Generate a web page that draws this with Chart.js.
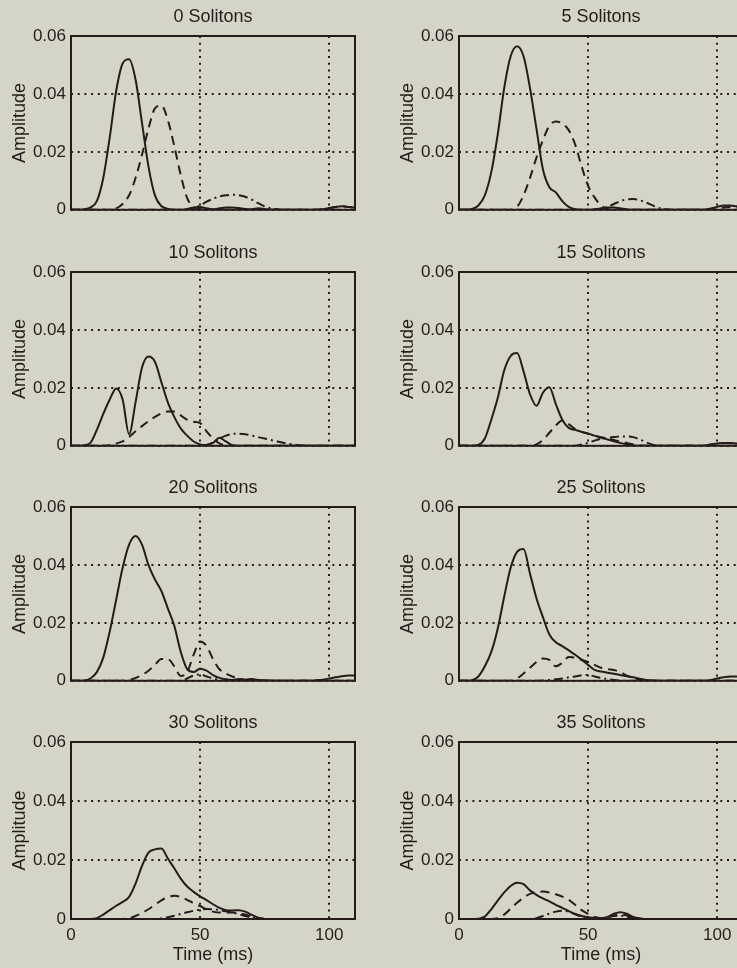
<!DOCTYPE html>
<html>
<head>
<meta charset="utf-8">
<script src="https://cdn.jsdelivr.net/npm/chart.js@4.4.1/dist/chart.umd.min.js"></script>
<style>
html,body{margin:0;padding:0;background:#d5d5c7;overflow:hidden;width:737px;height:968px;position:relative;}
canvas{position:absolute;}
</style>
</head>
<body>
<script>
// ---------- data ----------
const TIME = [0,2.5,5,7.5,10,12.5,15,17.5,20,22.5,25,27.5,30,32.5,35,37.5,40,42.5,45,47.5,50,52.5,55,57.5,60,62.5,65,67.5,70,72.5,75,77.5,80,82.5,85,87.5,90,92.5,95,97.5,100,102.5,105,107.5,110];
const X_TICKS = [0, 50, 100];
const Y_TICKS = [0, 0.02, 0.04, 0.06];
const PANEL_TITLES = ['0 Solitons','5 Solitons','10 Solitons','15 Solitons','20 Solitons','25 Solitons','30 Solitons','35 Solitons'];
const X_TITLE = 'Time (ms)';
const Y_TITLE = 'Amplitude';

// 0 Solitons
const s0_solid = [0,0,0.0002,0.0008,0.003,0.011,0.025,0.041,0.0505,0.052,0.045,0.030,0.015,0.005,0.0013,0.0003,0,0,0.0003,0.0008,0.001,0.0005,0.0002,0.0005,0.0008,0.0008,0.0006,0.0003,0.0002,0.0005,0.0003,0,0,0,0,0,0,0,0,0.0002,0.0006,0.001,0.0012,0.001,0.0008];
const s0_dash  = [0,0,0,0,0,0,0,0.0005,0.002,0.005,0.011,0.019,0.028,0.035,0.036,0.031,0.022,0.012,0.004,0.001,0.0003,0,0,0,0,0,0,0,0,0,0,0,0,0,0,0,0,0,0,0.0002,0.0006,0.001,0.0012,0.001,0.0008];
const s0_dot   = [0,0,0,0,0,0,0,0,0,0,0,0,0,0,0,0,0,0,0,0.0005,0.0015,0.0028,0.0038,0.0046,0.005,0.0052,0.005,0.0045,0.0035,0.0023,0.0012,0.0005,0.0002,0,0,0,0,0,0,0,0,0,0,0,0];
// 5 Solitons
const s5_solid = [0,0,0.0003,0.0015,0.005,0.013,0.026,0.042,0.053,0.0565,0.053,0.042,0.028,0.014,0.0078,0.006,0.003,0.001,0.0002,0,0,0.0002,0.0005,0.0008,0.0008,0.0005,0.0002,0,0,0,0,0,0,0,0,0,0,0,0,0.0005,0.001,0.0015,0.0015,0.0012,0.001];
const s5_dash  = [0,0,0,0,0,0,0,0,0,0.001,0.005,0.011,0.018,0.024,0.029,0.0305,0.0298,0.0275,0.0225,0.015,0.0083,0.0043,0.0015,0.0003,0,0,0,0,0,0,0,0,0,0,0,0,0,0,0,0,0.0005,0.0008,0.001,0.0008,0.0006];
const s5_dot   = [0,0,0,0,0,0,0,0,0,0,0,0,0,0,0,0,0,0,0,0,0,0,0.0003,0.001,0.002,0.003,0.0036,0.0037,0.0033,0.0025,0.0015,0.0006,0.0002,0,0,0,0,0,0,0,0,0,0,0,0];
// 10 Solitons
const s10_solid = [0,0,0.0002,0.001,0.0055,0.011,0.016,0.0198,0.016,0.004,0.015,0.027,0.0308,0.029,0.022,0.015,0.010,0.006,0.0035,0.0015,0.0005,0.0003,0.001,0.0028,0.0015,0.0002,0,0,0,0,0,0,0,0,0,0,0,0,0,0,0,0,0,0,0];
const s10_dash  = [0,0,0,0,0,0,0.0003,0.0008,0.0015,0.003,0.005,0.0068,0.0085,0.010,0.0112,0.0118,0.0118,0.0105,0.009,0.0083,0.0078,0.005,0.0025,0.0008,0.0002,0,0,0,0,0,0,0,0,0,0,0,0,0,0,0,0,0,0,0,0];
const s10_dot   = [0,0,0,0,0,0,0,0,0,0,0,0,0,0,0,0,0,0,0,0,0,0.0003,0.0012,0.0025,0.0035,0.0041,0.0042,0.004,0.0035,0.003,0.0025,0.002,0.0015,0.001,0.0006,0.0003,0.0001,0,0,0,0,0,0,0,0];
// 15 Solitons
const s15_solid = [0,0,0,0.0003,0.0025,0.009,0.0165,0.026,0.031,0.032,0.0257,0.0178,0.0138,0.0183,0.0202,0.0144,0.009,0.0062,0.0055,0.0048,0.0042,0.0035,0.0028,0.0022,0.0016,0.001,0.0005,0.0002,0,0,0,0,0,0,0,0,0,0,0,0.0005,0.0008,0.001,0.001,0.0008,0.0006];
const s15_dash  = [0,0,0,0,0,0,0,0,0,0,0,0,0.0005,0.002,0.0045,0.007,0.0087,0.0075,0.0058,0.0048,0.0042,0.0035,0.003,0.0025,0.002,0.0015,0.001,0.0005,0.0002,0,0,0,0,0,0,0,0,0,0,0,0,0,0,0,0];
const s15_dot   = [0,0,0,0,0,0,0,0,0,0,0,0,0,0,0,0,0,0,0,0.0005,0.001,0.0018,0.0024,0.0028,0.003,0.0032,0.0032,0.003,0.0022,0.0012,0.0004,0,0,0,0,0,0,0,0,0,0,0,0,0,0];
// 20 Solitons
const s20_solid = [0,0,0.0001,0.0008,0.003,0.008,0.017,0.028,0.039,0.047,0.050,0.047,0.040,0.035,0.031,0.025,0.019,0.010,0.004,0.003,0.0042,0.0035,0.002,0.001,0.0005,0.0003,0.0006,0.0004,0.0006,0.0003,0.0002,0.0001,0,0,0,0,0,0,0.0002,0.0004,0.0008,0.0012,0.0016,0.0018,0.0018];
const s20_dash  = [0,0,0,0,0,0,0,0,0,0.0003,0.001,0.002,0.0035,0.0055,0.0075,0.0075,0.005,0.0017,0.003,0.009,0.0136,0.012,0.0075,0.004,0.0025,0.0015,0.0008,0.0002,0,0,0,0,0,0,0,0,0,0,0,0,0,0,0,0,0];
const s20_dot   = [0,0,0,0,0,0,0,0,0,0,0,0,0,0,0,0,0,0,0.0008,0.0018,0.0022,0.0015,0.0008,0.0003,0,0,0,0,0,0,0,0,0,0,0,0,0,0,0,0,0,0,0,0,0];
// 25 Solitons
const s25_solid = [0,0,0.0002,0.0015,0.005,0.010,0.018,0.029,0.039,0.0445,0.0455,0.037,0.0285,0.022,0.016,0.0133,0.012,0.0105,0.009,0.0073,0.0055,0.0038,0.0032,0.0028,0.0024,0.002,0.0016,0.0012,0.0007,0.0003,0.0001,0,0,0,0,0,0,0,0,0.0003,0.0008,0.0012,0.0015,0.0015,0.0015];
const s25_dash  = [0,0,0,0,0,0,0,0,0,0.0008,0.0025,0.0045,0.0065,0.0077,0.0072,0.005,0.0062,0.0082,0.008,0.0072,0.0065,0.0055,0.0045,0.004,0.0037,0.003,0.0018,0.0008,0.0003,0,0,0,0,0,0,0,0,0,0,0,0,0,0,0,0];
const s25_dot   = [0,0,0,0,0,0,0,0,0,0,0,0,0,0.0001,0.0003,0.0005,0.0008,0.0012,0.0015,0.0019,0.002,0.0015,0.001,0.0006,0.0003,0.0001,0,0,0,0,0,0,0,0,0,0,0,0,0,0,0,0,0,0,0];
// 30 Solitons
const s30_solid = [0,0,0,0,0.0003,0.0015,0.003,0.0045,0.0058,0.0075,0.012,0.018,0.0225,0.0236,0.0239,0.0205,0.0172,0.0137,0.011,0.0092,0.0077,0.0064,0.005,0.0038,0.003,0.0029,0.003,0.0025,0.0014,0.0004,0,0,0,0,0,0,0,0,0,0,0,0,0,0,0];
const s30_dash  = [0,0,0,0,0,0,0,0,0,0.0003,0.001,0.002,0.0033,0.0048,0.0063,0.0074,0.0079,0.0075,0.0065,0.0053,0.0044,0.0033,0.0025,0.0022,0.0022,0.0022,0.002,0.0015,0.0008,0.0003,0,0,0,0,0,0,0,0,0,0,0,0,0,0,0];
const s30_dot   = [0,0,0,0,0,0,0,0,0,0,0,0,0,0,0.0002,0.0006,0.0011,0.0017,0.0023,0.0028,0.0032,0.0034,0.0033,0.003,0.0026,0.0022,0.0016,0.001,0.0005,0.0002,0,0,0,0,0,0,0,0,0,0,0,0,0,0,0];
// 35 Solitons
const s35_solid = [0,0,0,0.0001,0.0008,0.0033,0.0062,0.009,0.0112,0.0123,0.0118,0.0097,0.0082,0.007,0.006,0.0048,0.0038,0.0027,0.0017,0.001,0.0006,0.0003,0.0002,0.0007,0.0018,0.0023,0.0018,0.0007,0.0002,0,0,0,0,0,0,0,0,0,0,0,0,0,0,0,0];
const s35_dash  = [0,0,0,0,0,0,0.0003,0.0015,0.0035,0.0055,0.0072,0.0085,0.0091,0.0093,0.009,0.0084,0.0076,0.0065,0.0048,0.003,0.0017,0.0007,0.0003,0.0006,0.0012,0.0015,0.0012,0.0006,0.0002,0,0,0,0,0,0,0,0,0,0,0,0,0,0,0,0];
const s35_dot   = [0,0,0,0,0,0,0,0,0,0,0,0,0.0003,0.001,0.0018,0.0025,0.0028,0.0025,0.0016,0.0007,0.0002,0,0.0002,0.0006,0.001,0.0011,0.0008,0.0003,0,0,0,0,0,0,0,0,0,0,0,0,0,0,0,0,0];

const PANEL_SERIES = [
  [s0_solid, s0_dash, s0_dot],
  [s5_solid, s5_dash, s5_dot],
  [s10_solid, s10_dash, s10_dot],
  [s15_solid, s15_dash, s15_dot],
  [s20_solid, s20_dash, s20_dot],
  [s25_solid, s25_dash, s25_dot],
  [s30_solid, s30_dash, s30_dot],
  [s35_solid, s35_dash, s35_dot]
];

// ---------- styles / layout ----------
const INK = '#261b1b';
const FONT = "'Liberation Sans', Arial, Helvetica, sans-serif";
const DASHES = [[], [9, 6], [9, 4, 2, 4]];
const ROW_PLOT_TOP = [36, 272, 507, 742];
const COL_LEFT = [0, 388];
const TITLE_SPACE = 36;
const PLOT_H = 177;

const framePlugin = {
  id: 'frame',
  afterDatasetsDraw(chart) {
    const a = chart.chartArea;
    const ctx = chart.ctx;
    ctx.save();
    ctx.strokeStyle = INK;
    ctx.lineWidth = 2;
    ctx.strokeRect(a.left, a.top, a.right - a.left, a.bottom - a.top);
    ctx.restore();
  }
};

PANEL_TITLES.forEach((title, p) => {
  const row = Math.floor(p / 2), col = p % 2;
  const isBottom = row === 3;
  const xAxisH = isBottom ? 50 : 12;
  const cv = document.createElement('canvas');
  const W = 370, H = TITLE_SPACE + PLOT_H + xAxisH;
  cv.width = W; cv.height = H;
  cv.style.left = COL_LEFT[col] + 'px';
  cv.style.top = (ROW_PLOT_TOP[row] - TITLE_SPACE) + 'px';
  cv.style.width = W + 'px'; cv.style.height = H + 'px';
  document.body.appendChild(cv);

  const datasets = PANEL_SERIES[p].map((arr, k) => ({
    data: TIME.map((t, i) => ({x: t, y: arr[i]})),
    borderColor: INK,
    borderWidth: 2,
    borderDash: DASHES[k],
    pointRadius: 0,
    fill: false,
    cubicInterpolationMode: 'monotone'
  }));

  new Chart(cv, {
    type: 'line',
    data: {datasets},
    plugins: [framePlugin],
    options: {
      responsive: false,
      animation: false,
      devicePixelRatio: 1,
      layout: {padding: {left: 0, right: 15, top: 0, bottom: 0}},
      plugins: {
        legend: {display: false},
        tooltip: {enabled: false},
        title: {
          display: true, text: title, fullSize: false, color: INK,
          font: {family: FONT, size: 18, weight: 'normal'},
          padding: {top: 6, bottom: 8.4}
        }
      },
      scales: {
        x: {
          type: 'linear', min: 0, max: 110,
          afterBuildTicks: s => { s.ticks = X_TICKS.map(v => ({value: v})); },
          afterFit: s => { s.height = xAxisH; },
          ticks: {display: isBottom, color: INK, font: {family: FONT, size: 17}, padding: 6, maxRotation: 0, autoSkip: false},
          grid: {color: INK, lineWidth: 2, drawTicks: false},
          border: {display: false, dash: [2, 4.7]},
          title: {display: isBottom, text: X_TITLE, color: INK, font: {family: FONT, size: 18}, padding: {top: 0, bottom: 3}}
        },
        y: {
          type: 'linear', min: 0, max: 0.06,
          afterBuildTicks: s => { s.ticks = Y_TICKS.map(v => ({value: v})); },
          afterFit: s => { s.width = 71; },
          ticks: {color: INK, font: {family: FONT, size: 17}, padding: 5, autoSkip: false,
                  callback: v => v === 0 ? '0' : v.toFixed(2)},
          grid: {color: INK, lineWidth: 2, drawTicks: false},
          border: {display: false, dash: [2, 4.7]},
          title: {display: true, text: Y_TITLE, color: INK, font: {family: FONT, size: 18}, padding: {top: 9, bottom: 0}}
        }
      }
    }
  });
});
</script>
</body>
</html>
